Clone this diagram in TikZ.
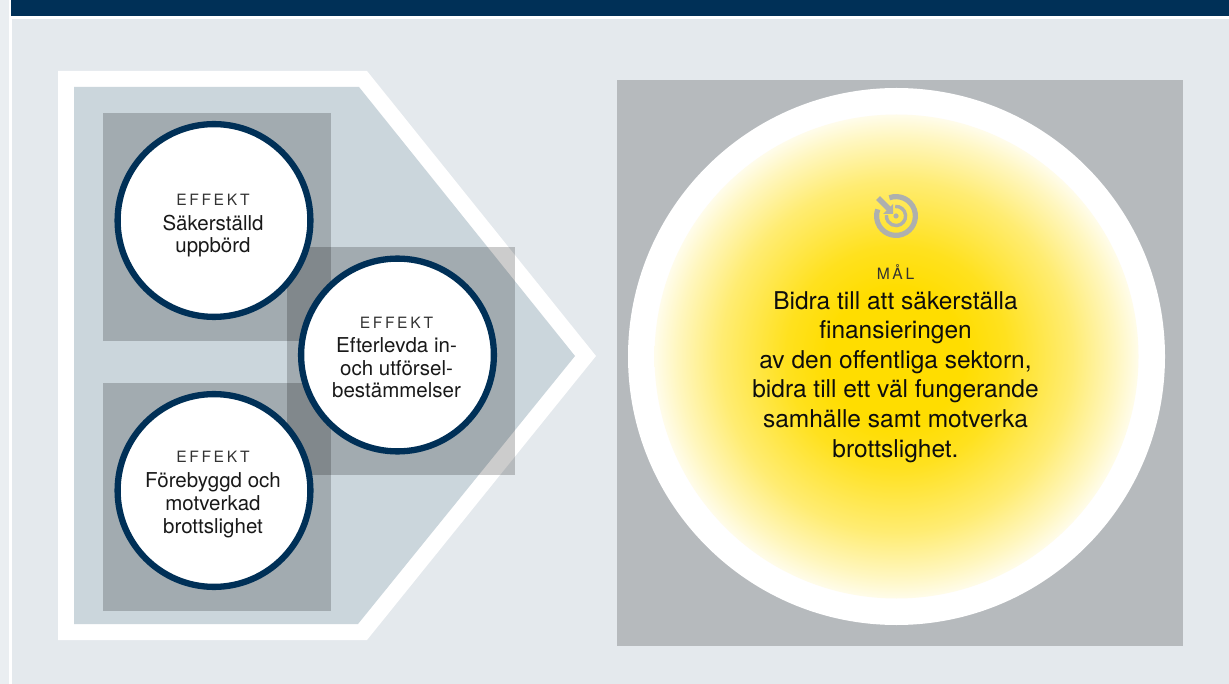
\documentclass[tikz,border=0pt]{standalone}
\usepackage{fontspec}
\setmainfont{TeX Gyre Heros}
\newfontfamily\spacedfont[LetterSpace=17]{TeX Gyre Heros}
\usetikzlibrary{calc,positioning}
\definecolor{navy}{HTML}{003057}
\definecolor{panel}{HTML}{E4E9ED}
\definecolor{strip}{HTML}{EAEEF1}
\definecolor{arrowfill}{HTML}{CBD6DC}
\definecolor{icongray}{HTML}{AEB0AE}
\definecolor{goalyellow}{HTML}{FFDD00}
\newcommand{\kicker}[1]{{\fontsize{15.6pt}{22pt}\spacedfont\color{black!80} #1}}
\pgfdeclareradialshading{goalglow}{\pgfpoint{0bp}{0bp}}{%
  color(0bp)=(goalyellow);
  color(7bp)=(goalyellow);
  color(11.4bp)=(goalyellow!88!white);
  color(18.2bp)=(goalyellow!55!white);
  color(22.7bp)=(goalyellow!25!white);
  color(25bp)=(goalyellow!8!white);
  color(50bp)=(goalyellow!8!white)}
\begin{document}
\begin{tikzpicture}[x=1pt,y=-1pt,
    shadesquare/.style={fill=black,fill opacity=0.2},
    effektcircle/.style={draw=navy,line width=6.3pt,fill=white,circle,inner sep=0pt,minimum size=192.8pt},
    effekttext/.style={align=center,font=\fontsize{20.5pt}{22.6pt}\selectfont,text=black!90},
    goaltext/.style={align=center,font=\fontsize{24.5pt}{29.6pt}\selectfont,text=black!95}]
  \useasboundingbox (0,0) rectangle (1229,684);

  % background
  \fill[strip] (0,0) rectangle (1229,684);
  \fill[white] (9,0) rectangle (1229,684);
  \fill[navy] (10.5,0) rectangle (1229,16.5);
  \fill[panel] (11.5,19) rectangle (1229,684);

  % arrow
  \fill[white] (58,71) -- (367,71) -- (596,356) -- (367,640) -- (58,640) -- cycle;
  \fill[arrowfill] (74,87) -- (359,87) -- (575,356) -- (358,624) -- (74,624) -- cycle;

  % squares
  \fill[shadesquare] (103,113) rectangle (331,341);
  \fill[shadesquare] (287,247) rectangle (515,475);
  \fill[shadesquare] (103,383) rectangle (331,611);
  \fill[shadesquare] (617,80) rectangle (1183,646);

  % effects
  \node[effektcircle] (uppbord) at (214,220.5) {};
  \node[effektcircle] (efterlevnad) at (397.5,355) {};
  \node[effektcircle] (brottslighet) at (214,490.5) {};
  \node[effekttext] (uppbord text) at ($(uppbord.center)+(-1,5)$)
    {\kicker{EFFEKT}\\[2.5pt]Säkerställd\\uppbörd};
  \node[effekttext] (efterlevnad text) at ($(efterlevnad.center)+(-1,2.5)$)
    {\kicker{EFFEKT}\\[1.5pt]Efterlevda in-\\och utförsel-\\bestämmelser};
  \node[effekttext] (brottslighet text) at ($(brottslighet.center)+(-1,4)$)
    {\kicker{EFFEKT}\\[2.5pt]Förebyggd och\\motverkad\\brottslighet};

  % goal
  \node[circle,fill=white,inner sep=0pt,minimum size=537pt] (goal) at (896.5,356.5) {};
  \shade[shading=goalglow] (goal.center) circle (242);
  \node[goaltext] (goal text) at ($(goal.center)+(-1,7)$)
    {\kicker{MÅL}\\Bidra till att säkerställa\\finansieringen\\av den offentliga sektorn,\\bidra till ett väl fungerande\\samhälle samt motverka\\brottslighet.};

  % icon
  \begin{scope}[shift={(896,216)},icongray]
    \draw[line width=5.2pt] (250:19.4) arc[start angle=250,end angle=560,radius=19.4];
    \draw[line width=3.4pt] (265:9.6) arc[start angle=265,end angle=545,radius=9.6];
    \fill (0,0) circle (2.6);
    \draw[line width=5.4pt] (-18,-18) -- (-6,-6);
    \fill (-3,-2) -- (-13,-2) -- (-3,-12) -- cycle;
  \end{scope}
\end{tikzpicture}
\end{document}
